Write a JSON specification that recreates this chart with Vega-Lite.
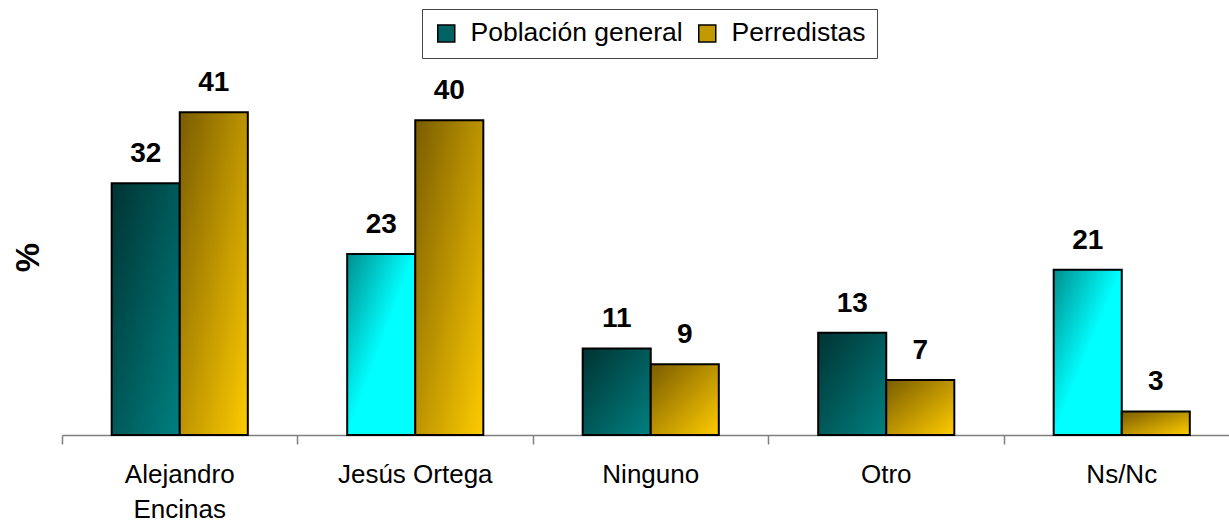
{
  "$schema": "https://vega.github.io/schema/vega-lite/v6.json",
  "autosize": {"type": "none"},
  "padding": {"left": 62, "top": 10, "right": 0, "bottom": 88},
  "width": 1167,
  "height": 425,
  "background": "white",
  "config": {
    "view": {"stroke": null},
    "font": "Liberation Sans"
  },
  "data": {
    "values": [
      {"categoria": "Alejandro Encinas", "serie": "Población general", "valor": 32},
      {"categoria": "Alejandro Encinas", "serie": "Perredistas", "valor": 41},
      {"categoria": "Jesús Ortega", "serie": "Población general", "valor": 23},
      {"categoria": "Jesús Ortega", "serie": "Perredistas", "valor": 40},
      {"categoria": "Ninguno", "serie": "Población general", "valor": 11},
      {"categoria": "Ninguno", "serie": "Perredistas", "valor": 9},
      {"categoria": "Otro", "serie": "Población general", "valor": 13},
      {"categoria": "Otro", "serie": "Perredistas", "valor": 7},
      {"categoria": "Ns/Nc", "serie": "Población general", "valor": 21},
      {"categoria": "Ns/Nc", "serie": "Perredistas", "valor": 3}
    ]
  },
  "encoding": {
    "x": {
      "field": "categoria",
      "type": "nominal",
      "sort": null,
      "scale": {"paddingInner": 0, "paddingOuter": 0, "range": [0, 1177.5]},
      "axis": {
        "title": null,
        "labelAngle": 0,
        "bandPosition": 0,
        "domainColor": "#808080",
        "domainWidth": 1.5,
        "tickColor": "#808080",
        "tickWidth": 1.5,
        "tickSize": 9,
        "labelPadding": 17,
        "labelFontSize": 26,
        "labelColor": "black",
        "labelLineHeight": 35,
        "labelBaseline": "top",
        "labelAlign": "center",
        "labelOffset": 0,
        "labelExpr": "datum.label == 'Alejandro Encinas' ? ['Alejandro', 'Encinas'] : datum.label",
        "grid": false
      }
    },
    "xOffset": {
      "field": "serie",
      "type": "nominal",
      "sort": ["Población general", "Perredistas"],
      "scale": {"paddingOuter": 0.73, "paddingInner": 0}
    },
    "y": {
      "field": "valor",
      "type": "quantitative",
      "scale": {"domain": [0, 54], "nice": false},
      "axis": {
        "title": "%",
        "titleFontSize": 33,
        "titleFontWeight": "bold",
        "titleColor": "black",
        "titleAngle": -90,
        "titleX": -34,
        "titleY": 247,
        "titleAlign": "center",
        "titleBaseline": "middle",
        "labels": false,
        "ticks": false,
        "domain": false,
        "grid": false
      }
    }
  },
  "layer": [
    {
      "mark": {"type": "bar", "stroke": "black", "strokeWidth": 2},
      "encoding": {
        "fill": {
          "condition": [
            {
              "test": "datum.serie == 'Población general' && (datum.categoria == 'Jesús Ortega' || datum.categoria == 'Ns/Nc')",
              "value": {
                "gradient": "linear", "x1": 0, "y1": 0, "x2": 1, "y2": 1,
                "stops": [
                  {"offset": 0, "color": "#008f8f"},
                  {"offset": 0.5, "color": "#00ffff"},
                  {"offset": 1, "color": "#00ffff"}
                ]
              }
            },
            {
              "test": "datum.serie == 'Perredistas'",
              "value": {
                "gradient": "linear", "x1": 0, "y1": 0, "x2": 1, "y2": 1,
                "stops": [
                  {"offset": 0, "color": "#7a5c00"},
                  {"offset": 1, "color": "#ffcc00"}
                ]
              }
            }
          ],
          "value": {
            "gradient": "linear", "x1": 0, "y1": 0, "x2": 1, "y2": 1,
            "stops": [
              {"offset": 0, "color": "#003333"},
              {"offset": 1, "color": "#008080"}
            ]
          }
        }
      }
    },
    {
      "transform": [{"filter": "false"}],
      "mark": {"type": "square"},
      "encoding": {
        "fill": {
          "field": "serie",
          "type": "nominal",
          "scale": {
            "domain": ["Población general", "Perredistas"],
            "range": ["#006262", "#c29a00"]
          },
          "legend": {
            "title": null,
            "orient": "none",
            "legendX": 360,
            "legendY": -1,
            "direction": "horizontal",
            "fillColor": "white",
            "strokeColor": "#444444",
            "padding": 11,
            "symbolType": "square",
            "symbolSize": 289,
            "symbolStrokeColor": "black",
            "symbolStrokeWidth": 1.5,
            "symbolOpacity": 1,
            "labelFontSize": 26.5,
            "labelColor": "black",
            "labelOffset": 11,
            "columnPadding": 11,
            "labelLimit": 400
          }
        }
      }
    },
    {
      "mark": {
        "type": "text",
        "fontSize": 28,
        "fontWeight": "bold",
        "color": "black",
        "baseline": "alphabetic",
        "align": "center",
        "dy": -21
      },
      "encoding": {
        "text": {"field": "valor", "type": "quantitative"}
      }
    }
  ]
}
